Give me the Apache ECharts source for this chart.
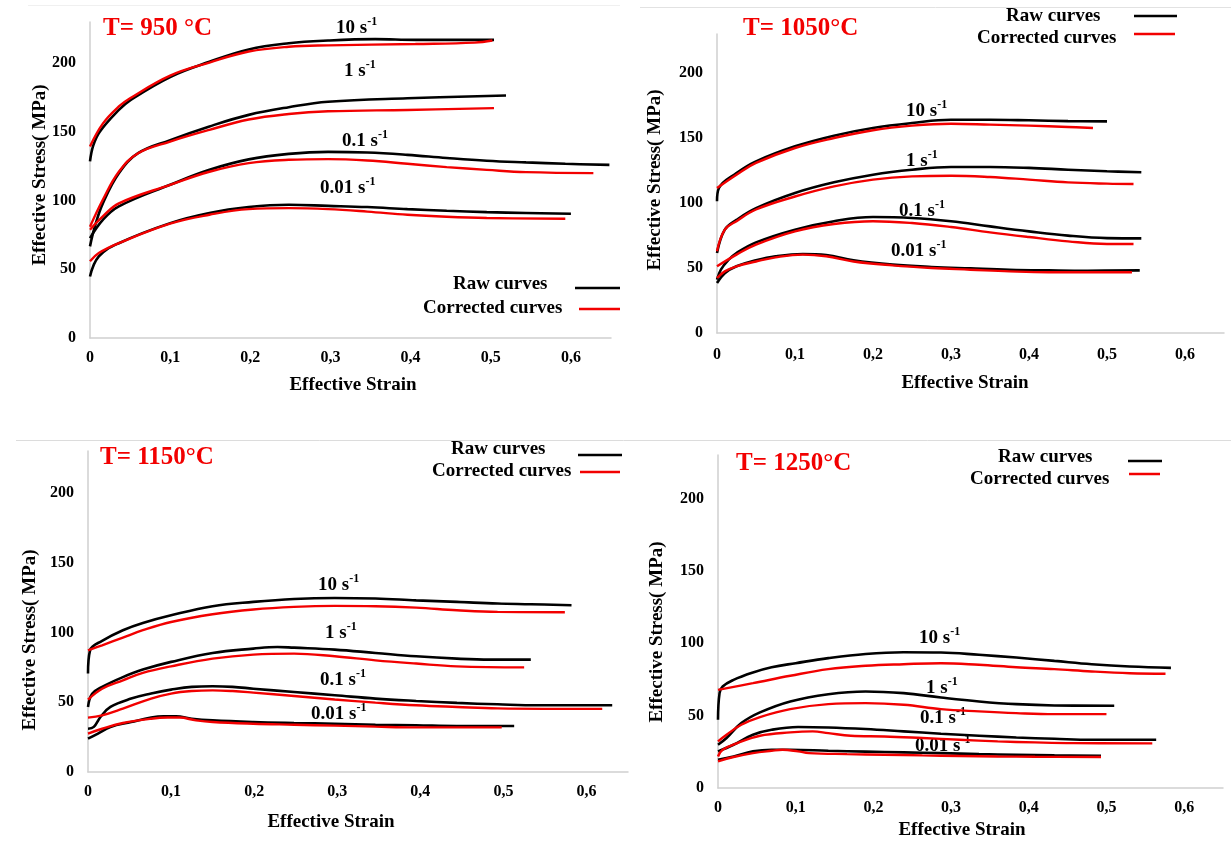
<!DOCTYPE html>
<html>
<head>
<meta charset="utf-8">
<script src="https://cdn.jsdelivr.net/npm/echarts@6/dist/echarts.min.js"></script>
<style>
  html, body { margin: 0; padding: 0; background: #ffffff; }
  #chart { width: 1231px; height: 842px; }
</style>
</head>
<body>
<div id="chart"></div>
<script>
// Flow curves: [effective strain, effective stress (MPa)]
// ---- T = 950 °C ----
const t950_10_raw = [[0,128.5],[0.004,140],[0.012,150],[0.036,166],[0.05,173],[0.1,190],[0.149,201],[0.198,210],[0.248,214.5],[0.297,216.5],[0.356,217.5],[0.406,217],[0.504,217]];
const t950_10_cor = [[0,139.4],[0.016,156],[0.036,168.5],[0.05,174.5],[0.1,191],[0.149,200.5],[0.198,208.5],[0.248,212],[0.297,213],[0.406,214],[0.48,215],[0.502,216.5]];
const t950_1_raw = [[0,66.7],[0.006,81],[0.016,98],[0.036,120],[0.06,134.5],[0.1,144],[0.149,154],[0.198,162.4],[0.248,168],[0.297,172],[0.396,174.5],[0.519,176.5]];
const t950_1_cor = [[0,81],[0.016,100.6],[0.036,121],[0.06,134.5],[0.1,143],[0.149,151.5],[0.198,159],[0.248,163],[0.297,165],[0.396,166],[0.504,167.3]];
const t950_01_raw = [[0,72.7],[0.016,86],[0.036,95.8],[0.1,111.5],[0.149,122.4],[0.198,130],[0.248,134],[0.297,135.5],[0.346,135],[0.396,133.3],[0.445,131],[0.495,129],[0.544,127.8],[0.593,126.8],[0.648,126]];
const t950_01_cor = [[0,78.8],[0.016,88.5],[0.036,98],[0.1,111.5],[0.149,121],[0.198,127.3],[0.248,129.7],[0.297,130.2],[0.346,129.2],[0.396,126.8],[0.445,124.4],[0.495,122.4],[0.544,120.7],[0.628,120]];
const t950_001_raw = [[0,44.8],[0.011,59.4],[0.036,69],[0.1,83.6],[0.149,91],[0.198,95.3],[0.248,97],[0.297,96.2],[0.346,95.3],[0.396,93.8],[0.445,92.6],[0.495,91.6],[0.544,91],[0.6,90.4]];
const t950_001_cor = [[0,55.8],[0.011,61.8],[0.036,69],[0.1,83.2],[0.149,89.7],[0.198,93.8],[0.248,94.5],[0.297,93.8],[0.346,92],[0.396,89.7],[0.445,88.2],[0.495,87.3],[0.593,86.8]];

// ---- T = 1050 °C ----
const t1050_10_raw = [[0,101.3],[0.0025,111.5],[0.025,123],[0.05,132],[0.1,143.6],[0.15,151.8],[0.2,157.7],[0.25,161.5],[0.3,164],[0.35,164],[0.4,163.6],[0.45,163],[0.5,162.8]];
const t1050_10_cor = [[0,111.5],[0.025,121.8],[0.05,130.8],[0.1,142.3],[0.15,150],[0.2,156],[0.25,159.5],[0.3,161],[0.35,160.3],[0.4,159.5],[0.45,158.5],[0.482,157.7]];
const t1050_1_raw = [[0,61.5],[0.01,79.5],[0.025,87],[0.05,96],[0.1,107.7],[0.15,115.9],[0.2,121.8],[0.25,125.6],[0.3,127.7],[0.35,127.7],[0.4,127],[0.45,125.6],[0.5,124.4],[0.544,123.6]];
const t1050_1_cor = [[0,62.8],[0.01,79.5],[0.025,86],[0.05,95],[0.1,105],[0.15,112.8],[0.2,118],[0.25,120.5],[0.3,121],[0.35,120],[0.4,118],[0.45,115.9],[0.5,114.9],[0.534,114.6]];
const t1050_01_raw = [[0,41],[0.005,48.7],[0.015,56.4],[0.025,61.5],[0.05,69.7],[0.1,79.5],[0.15,86],[0.2,89.2],[0.25,88.5],[0.3,86],[0.35,82],[0.4,78.2],[0.45,74.9],[0.5,73],[0.544,72.8]];
const t1050_01_cor = [[0,51.3],[0.025,60.3],[0.05,68],[0.1,78.2],[0.15,83.8],[0.2,86],[0.25,84.6],[0.3,81.5],[0.35,77.4],[0.4,73.8],[0.45,70.5],[0.5,68.5],[0.534,68.5]];
const t1050_001_raw = [[0,38.5],[0.01,46],[0.025,51.3],[0.05,55.9],[0.075,59],[0.11,60.8],[0.14,60],[0.175,55.9],[0.225,52.6],[0.275,50.8],[0.325,49.7],[0.375,48.7],[0.425,48.2],[0.475,47.9],[0.542,48.2]];
const t1050_001_cor = [[0,42.3],[0.01,47.4],[0.025,51.3],[0.05,55],[0.075,58.2],[0.11,60.3],[0.14,59],[0.175,55],[0.225,52],[0.275,50],[0.325,48.7],[0.375,47.4],[0.425,46.7],[0.475,46.7],[0.532,46.7]];

// ---- T = 1150 °C ----
const t1150_10_raw = [[0,70.5],[0.0025,87.2],[0.017,94],[0.042,101.6],[0.066,106.8],[0.1,112.3],[0.15,118.8],[0.199,121.9],[0.248,124],[0.297,124.7],[0.346,124.3],[0.395,123],[0.444,121.9],[0.493,120.7],[0.533,120.2],[0.582,119.5]];
const t1150_10_cor = [[0,87.2],[0.017,90.8],[0.042,96.3],[0.066,101.6],[0.1,107.5],[0.15,113],[0.199,116.4],[0.248,118.3],[0.297,119],[0.346,118.8],[0.395,117.8],[0.444,115.9],[0.493,114.7],[0.574,114.5]];
const t1150_1_raw = [[0,46.6],[0.005,56],[0.017,61],[0.042,68],[0.066,73.4],[0.1,78.9],[0.15,85.3],[0.199,88.4],[0.228,89.6],[0.248,89.1],[0.297,87.7],[0.346,85.3],[0.395,82.9],[0.444,81.2],[0.484,80.5],[0.533,80.5]];
const t1150_1_cor = [[0,51.9],[0.017,59.7],[0.042,65.7],[0.066,71],[0.1,75.7],[0.15,81.2],[0.199,84.1],[0.248,84.8],[0.297,82.9],[0.346,80],[0.395,77.7],[0.444,75.7],[0.525,75]];
const t1150_01_raw = [[0,31],[0.007,32.3],[0.015,39.4],[0.027,46.6],[0.052,52.6],[0.076,56.2],[0.1,59],[0.125,61],[0.15,61.4],[0.174,61],[0.199,59.7],[0.248,57.3],[0.297,55],[0.346,52.6],[0.395,50.9],[0.444,49.5],[0.493,48.5],[0.542,47.8],[0.631,47.8]];
const t1150_01_cor = [[0,39],[0.017,40.6],[0.042,45.4],[0.076,52.6],[0.1,56.2],[0.125,58],[0.15,58.5],[0.174,58],[0.199,56.9],[0.248,54.5],[0.297,51.9],[0.346,49.7],[0.395,47.8],[0.444,46.6],[0.493,45.6],[0.619,45.2]];
const t1150_001_raw = [[0,23.9],[0.012,27.5],[0.027,32.3],[0.052,35.8],[0.076,39],[0.091,39.9],[0.106,39.9],[0.125,38.2],[0.15,37],[0.199,35.8],[0.248,35.1],[0.297,34.6],[0.346,33.9],[0.395,33.5],[0.444,33],[0.513,33]];
const t1150_001_cor = [[0,27.5],[0.017,31],[0.042,35.1],[0.076,38.2],[0.096,39],[0.11,39],[0.13,37],[0.15,35.8],[0.199,34.6],[0.248,33.9],[0.297,33.2],[0.346,32.5],[0.395,32],[0.498,32]];

// ---- T = 1250 °C ----
const t1250_10_raw = [[0,47.1],[0.002,65.5],[0.006,70.1],[0.02,74.7],[0.045,79.8],[0.069,83.4],[0.1,86.2],[0.142,89.7],[0.19,92.6],[0.239,93.8],[0.287,93.6],[0.336,92],[0.384,90.1],[0.433,87.8],[0.481,85.5],[0.53,83.9],[0.583,83]];
const t1250_10_cor = [[0,67.8],[0.045,72.4],[0.093,77.5],[0.142,82.1],[0.19,84.4],[0.239,85.5],[0.287,86.2],[0.336,85.1],[0.384,83.4],[0.433,82.1],[0.481,80.5],[0.53,79.3],[0.576,78.9]];
const t1250_1_raw = [[0,29.9],[0.011,34.5],[0.03,44.8],[0.054,52.2],[0.093,59.8],[0.142,64.8],[0.19,66.7],[0.239,65.5],[0.287,62.5],[0.336,59.8],[0.384,57.9],[0.433,57],[0.51,56.8]];
const t1250_1_cor = [[0,32.2],[0.011,36.8],[0.03,43.7],[0.054,49],[0.093,54.5],[0.142,57.9],[0.19,58.6],[0.239,57.5],[0.287,54.5],[0.336,52.9],[0.384,51.7],[0.433,51],[0.5,51]];
const t1250_01_raw = [[0,25.3],[0.02,29.9],[0.045,36.8],[0.069,40.2],[0.103,42.1],[0.142,41.8],[0.19,40.7],[0.239,39.1],[0.287,37.5],[0.336,36.1],[0.384,34.9],[0.433,34],[0.481,33.3],[0.564,33.3]];
const t1250_01_cor = [[0,21.8],[0.006,26.4],[0.025,31],[0.054,36.1],[0.093,38.4],[0.122,39.1],[0.142,37.9],[0.171,36.1],[0.214,35.6],[0.263,34.5],[0.311,33.3],[0.36,32.2],[0.408,31.5],[0.457,31],[0.559,30.8]];
const t1250_001_raw = [[0,19.5],[0.02,21.8],[0.045,25.3],[0.069,26.4],[0.093,26.4],[0.142,25.7],[0.19,25.1],[0.239,24.6],[0.287,24.1],[0.336,23.4],[0.384,23],[0.433,22.5],[0.493,22.3]];
const t1250_001_cor = [[0,18.4],[0.02,21.4],[0.045,24.1],[0.069,25.7],[0.083,26.4],[0.103,25.3],[0.117,24.1],[0.166,23.4],[0.214,23],[0.263,22.5],[0.311,22.1],[0.36,21.8],[0.408,21.6],[0.493,21.4]];

// Text shown on the figure
const temperatures = ['T= 950 °C', 'T= 1050°C', 'T= 1150°C', 'T= 1250°C'];
const strainRates = ['10', '1', '0.1', '0.01'];
const legendNames = ['Raw curves', 'Corrected curves'];
const xTitle = 'Effective Strain';
const yTitle = 'Effective Stress( MPa)';

const SERIF = '"Liberation Serif", "Times New Roman", serif';
const RED = '#f20000';
const BLACK = '#000000';

// Layout of the four sub-plots
const panels = [
  {
    temp: temperatures[0],
    grid: { left: 90, top: 22, width: 521, height: 316 },
    raw: [t950_10_raw, t950_1_raw, t950_01_raw, t950_001_raw],
    cor: [t950_10_cor, t950_1_cor, t950_01_cor, t950_001_cor],
    titlePos: [103, 29],
    ratePos: [[336, 28], [344, 71], [342, 141], [320, 188]],
    legend: { raw: [453, 284, 575, 620, 288], cor: [423, 308, 579, 620, 309] },
    yName: [40, 175], xName: [353, 385], xLabelMargin: 12
  },
  {
    temp: temperatures[1],
    grid: { left: 717, top: 34, width: 507, height: 299 },
    raw: [t1050_10_raw, t1050_1_raw, t1050_01_raw, t1050_001_raw],
    cor: [t1050_10_cor, t1050_1_cor, t1050_01_cor, t1050_001_cor],
    titlePos: [743, 29],
    ratePos: [[906, 111], [906, 161], [899, 211], [891, 251]],
    legend: { raw: [1006, 16, 1134, 1177, 16], cor: [977, 38, 1134, 1175, 34] },
    yName: [655, 180], xName: [965, 383], xLabelMargin: 14
  },
  {
    temp: temperatures[2],
    grid: { left: 88, top: 451, width: 540, height: 321 },
    raw: [t1150_10_raw, t1150_1_raw, t1150_01_raw, t1150_001_raw],
    cor: [t1150_10_cor, t1150_1_cor, t1150_01_cor, t1150_001_cor],
    titlePos: [100, 458],
    ratePos: [[318, 585], [325, 633], [320, 680], [311, 714]],
    legend: { raw: [451, 449, 578, 622, 455], cor: [432, 471, 580, 620, 472] },
    yName: [30, 640], xName: [331, 822], xLabelMargin: 12
  },
  {
    temp: temperatures[3],
    grid: { left: 718, top: 455, width: 505, height: 333 },
    raw: [t1250_10_raw, t1250_1_raw, t1250_01_raw, t1250_001_raw],
    cor: [t1250_10_cor, t1250_1_cor, t1250_01_cor, t1250_001_cor],
    titlePos: [736, 464],
    ratePos: [[919, 638], [926, 688], [920, 718], [915, 746]],
    legend: { raw: [998, 457, 1128, 1162, 461], cor: [970, 479, 1129, 1160, 474] },
    yName: [657, 632], xName: [962, 830], xLabelMargin: 12
  }
];

const axisLineStyle = { show: true, lineStyle: { color: '#cfcfcf', width: 1.5 } };
const tickFont = { fontFamily: SERIF, fontWeight: 'bold', fontSize: 16, color: '#000' };

const grids = [], xAxes = [], yAxes = [], series = [], graphics = [];

function textEl(x, y, text, size, color, extra) {
  return Object.assign({
    type: 'text', x: x, y: y, silent: true,
    style: {
      text: text, fill: color,
      font: 'bold ' + size + 'px ' + SERIF,
      fontFamily: SERIF, fontWeight: 'bold', fontSize: size,
      textAlign: 'left', align: 'left',
      textVerticalAlign: 'middle', verticalAlign: 'middle'
    }
  }, extra || {});
}

function lineEl(x1, x2, y, color) {
  return {
    type: 'line', silent: true,
    shape: { x1: x1, y1: y, x2: x2, y2: y },
    style: { stroke: color, lineWidth: 2.5 }
  };
}

panels.forEach(function (p, i) {
  grids.push(Object.assign({ containLabel: false }, p.grid));
  xAxes.push({
    type: 'value', gridIndex: i, min: 0, max: 0.65, interval: 0.1,
    axisLine: axisLineStyle, axisTick: { show: false }, splitLine: { show: false },
    axisLabel: Object.assign({
      margin: p.xLabelMargin, showMaxLabel: false,
      formatter: function (v) { return v === 0 ? '0' : v.toFixed(1).replace('.', ','); }
    }, tickFont)
  });
  yAxes.push({
    type: 'value', gridIndex: i, min: 0, max: 230, interval: 50,
    axisLine: axisLineStyle, axisTick: { show: false }, splitLine: { show: false },
    axisLabel: Object.assign({ margin: 14, showMaxLabel: false }, tickFont)
  });

  for (let k = 0; k < 4; k++) {
    series.push({
      name: legendNames[0], type: 'line', xAxisIndex: i, yAxisIndex: i,
      data: p.raw[k], showSymbol: false, smooth: 0.4,
      lineStyle: { color: BLACK, width: 2.6 }, itemStyle: { color: BLACK },
      z: 2, silent: true
    });
    series.push({
      name: legendNames[1], type: 'line', xAxisIndex: i, yAxisIndex: i,
      data: p.cor[k], showSymbol: false, smooth: 0.4,
      lineStyle: { color: RED, width: 2.4 }, itemStyle: { color: RED },
      z: 3, silent: true
    });
  }

  // temperature heading
  graphics.push(textEl(p.titlePos[0], p.titlePos[1], p.temp, 25, RED));

  // strain-rate annotations with superscript exponent
  strainRates.forEach(function (r, k) {
    graphics.push({
      type: 'text', x: p.ratePos[k][0], y: p.ratePos[k][1], silent: true,
      style: {
        text: '{b|' + r + ' s}{s|-1}',
        fill: '#000',
        textAlign: 'left', align: 'left',
        textVerticalAlign: 'middle', verticalAlign: 'middle',
        rich: {
          b: { fontFamily: SERIF, fontWeight: 'bold', fontSize: 19, fill: '#000', color: '#000' },
          s: { fontFamily: SERIF, fontWeight: 'bold', fontSize: 12, fill: '#000', color: '#000', padding: [0, 0, 12, 0] }
        }
      }
    });
  });

  // legend block
  const L = p.legend;
  graphics.push(textEl(L.raw[0], L.raw[1], legendNames[0], 19, '#000'));
  graphics.push(lineEl(L.raw[2], L.raw[3], L.raw[4], BLACK));
  graphics.push(textEl(L.cor[0], L.cor[1], legendNames[1], 19, '#000'));
  graphics.push(lineEl(L.cor[2], L.cor[3], L.cor[4], RED));

  // axis titles
  const xt = textEl(p.xName[0], p.xName[1], xTitle, 19, '#000');
  xt.style.textAlign = 'center';
  xt.style.align = 'center';
  graphics.push(xt);
  const yt = textEl(p.yName[0], p.yName[1], yTitle, 19, '#000', { rotation: Math.PI / 2 });
  yt.style.textAlign = 'center';
  yt.style.align = 'center';
  graphics.push(yt);
});

// faint frame lines separating the sub-plots
graphics.push({ type: 'line', silent: true, shape: { x1: 640, y1: 7.5, x2: 1231, y2: 7.5 }, style: { stroke: '#e2e2e2', lineWidth: 1 } });
graphics.push({ type: 'line', silent: true, shape: { x1: 16, y1: 440.5, x2: 1231, y2: 440.5 }, style: { stroke: '#dcdcdc', lineWidth: 1 } });
graphics.push({ type: 'line', silent: true, shape: { x1: 28, y1: 5.5, x2: 620, y2: 5.5 }, style: { stroke: '#f0f0f0', lineWidth: 1 } });

const chart = echarts.init(document.getElementById('chart'), null, { renderer: 'canvas' });
chart.setOption({
  backgroundColor: '#ffffff',
  animation: false,
  grid: grids,
  xAxis: xAxes,
  yAxis: yAxes,
  series: series,
  graphic: { elements: graphics }
});
</script>
</body>
</html>
